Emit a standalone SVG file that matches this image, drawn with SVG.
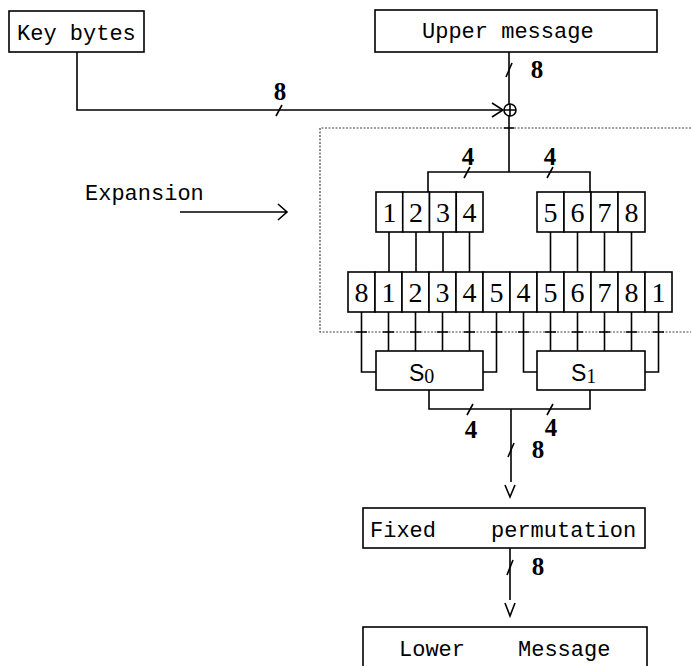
<svg xmlns="http://www.w3.org/2000/svg" width="691" height="666" viewBox="0 0 691 666">
<style>
.box{fill:#fff;stroke:#000;stroke-width:1.6}
.ln{fill:none;stroke:#000;stroke-width:1.6}
.lbl{font-family:"Liberation Mono","DejaVu Sans Mono",monospace;font-size:22px;fill:#000}
.dig{font-family:"Liberation Serif",serif;font-size:28px;fill:#000;text-anchor:middle}
.num{font-family:"Liberation Serif",serif;font-size:25px;font-weight:bold;fill:#000;text-anchor:middle}
.sl{font-family:"Liberation Sans",sans-serif;font-size:23px;fill:#000}
.dash{fill:none;stroke:#444;stroke-width:1.2;stroke-dasharray:2 1.5}
</style>
<rect width="691" height="666" fill="#fff"/>

<g id="expansion-region">
  <path class="dash" d="M691 128 H320 V332 H691"/>
  <path class="ln" d="M504 128 H514 M356 332 H367 M383 332 H394 M410 332 H421 M437 332 H448 M464 332 H475 M491 332 H502 M518 332 H529 M545 332 H556 M572 332 H583 M599 332 H610 M626 332 H637 M653 332 H664"/>
</g>

<g id="connectors">
  <path class="ln" d="M77 52 V110 H503"/>
  <path class="ln" d="M492 103 L503 110 L492 117"/>
  <path class="ln" d="M276 116 L282 105"/>
  <path class="ln" d="M509 52 V104"/>
  <path class="ln" d="M506 77 L512 63"/>
  <path class="ln" d="M509 116 V172"/>
  <path class="ln" d="M428 192 V172 H590 V192"/>
  <path class="ln" d="M464 178 L470 167 M547 178 L553 167"/>
  <path class="ln" d="M389 232 V272 M416 232 V272 M443 232 V272 M469.5 232 V272 M550.5 232 V272 M577.5 232 V272 M604.5 232 V272 M631.5 232 V272"/>
  <path class="ln" d="M361.5 312 V372 H376 M388.5 312 V351 M415.5 312 V351 M442.5 312 V351 M469.5 312 V351 M496.5 312 V372 H483"/>
  <path class="ln" d="M523.5 312 V372 H537 M550.5 312 V351 M577.5 312 V351 M604.5 312 V351 M631.5 312 V351 M658.5 312 V372 H645"/>
  <path class="ln" d="M429 390 V409 H590 V390"/>
  <path class="ln" d="M467 415 L473 404 M547 415 L553 404"/>
  <path class="ln" d="M511 409 V482"/>
  <path class="ln" d="M508 457 L514 443"/>
  <path class="ln" d="M505 485 L510 497 L515 485"/>
  <path class="ln" d="M510 548 V600"/>
  <path class="ln" d="M507 575 L513 560"/>
  <path class="ln" d="M505 603 L510 616 L515 603"/>
  <path class="ln" d="M180 212 H287 M278 204 L287 212 L278 220"/>
  <text class="num" x="280" y="100">8</text>
  <text class="num" x="537" y="78">8</text>
  <text class="num" x="468" y="165">4</text>
  <text class="num" x="550" y="165">4</text>
  <text class="num" x="471" y="438">4</text>
  <text class="num" x="551" y="436">4</text>
  <text class="num" x="538" y="458">8</text>
  <text class="num" x="538" y="575">8</text>
</g>

<g id="key-bytes">
  <rect class="box" x="9" y="11" width="135" height="41"/>
  <text class="lbl" x="17" y="40">Key bytes</text>
</g>

<g id="upper-message">
  <rect class="box" x="375" y="10" width="282" height="42"/>
  <text class="lbl" x="422" y="38">Upper message</text>
</g>

<g id="xor">
  <circle cx="510" cy="110" r="6" fill="#fff" stroke="#000" stroke-width="1.6"/>
  <path class="ln" d="M504 110 H516 M510 104 V116"/>
</g>

<g id="expansion-label">
  <text class="lbl" x="85" y="200">Expansion</text>
</g>

<g id="left-half">
  <rect class="box" x="376" y="192" width="26.75" height="40"/>
  <rect class="box" x="402.75" y="192" width="26.75" height="40"/>
  <rect class="box" x="429.5" y="192" width="26.75" height="40"/>
  <rect class="box" x="456.25" y="192" width="26.75" height="40"/>
  <text class="dig" x="389.4" y="222">1</text>
  <text class="dig" x="416.1" y="222">2</text>
  <text class="dig" x="442.9" y="222">3</text>
  <text class="dig" x="469.6" y="222">4</text>
</g>

<g id="right-half">
  <rect class="box" x="537" y="192" width="27" height="40"/>
  <rect class="box" x="564" y="192" width="27" height="40"/>
  <rect class="box" x="591" y="192" width="27" height="40"/>
  <rect class="box" x="618" y="192" width="27" height="40"/>
  <text class="dig" x="550.5" y="222">5</text>
  <text class="dig" x="577.5" y="222">6</text>
  <text class="dig" x="604.5" y="222">7</text>
  <text class="dig" x="631.5" y="222">8</text>
</g>

<g id="expanded-row">
  <rect class="box" x="348" y="272" width="27" height="40"/>
  <rect class="box" x="375" y="272" width="27" height="40"/>
  <rect class="box" x="402" y="272" width="27" height="40"/>
  <rect class="box" x="429" y="272" width="27" height="40"/>
  <rect class="box" x="456" y="272" width="27" height="40"/>
  <rect class="box" x="483" y="272" width="27" height="40"/>
  <rect class="box" x="510" y="272" width="27" height="40"/>
  <rect class="box" x="537" y="272" width="27" height="40"/>
  <rect class="box" x="564" y="272" width="27" height="40"/>
  <rect class="box" x="591" y="272" width="27" height="40"/>
  <rect class="box" x="618" y="272" width="27" height="40"/>
  <rect class="box" x="645" y="272" width="27" height="40"/>
  <text class="dig" x="361.5" y="302">8</text>
  <text class="dig" x="388.5" y="302">1</text>
  <text class="dig" x="415.5" y="302">2</text>
  <text class="dig" x="442.5" y="302">3</text>
  <text class="dig" x="469.5" y="302">4</text>
  <text class="dig" x="496.5" y="302">5</text>
  <text class="dig" x="523.5" y="302">4</text>
  <text class="dig" x="550.5" y="302">5</text>
  <text class="dig" x="577.5" y="302">6</text>
  <text class="dig" x="604.5" y="302">7</text>
  <text class="dig" x="631.5" y="302">8</text>
  <text class="dig" x="658.5" y="302">1</text>
</g>

<g id="s0">
  <rect class="box" x="376" y="351" width="107" height="39"/>
  <text class="sl" x="409" y="381">S<tspan font-size="20" font-family="Liberation Serif, serif" dy="2">0</tspan></text>
</g>

<g id="s1">
  <rect class="box" x="537" y="351" width="108" height="39"/>
  <text class="sl" x="571" y="381">S<tspan font-size="20" font-family="Liberation Serif, serif" dy="2">1</tspan></text>
</g>

<g id="fixed-permutation">
  <rect class="box" x="363" y="508" width="282" height="40"/>
  <text class="lbl" y="537"><tspan x="370">Fixed</tspan><tspan x="491">permutation</tspan></text>
</g>

<g id="lower-message">
  <rect class="box" x="363" y="627" width="284" height="60"/>
  <text class="lbl" y="656"><tspan x="399">Lower</tspan><tspan x="518">Message</tspan></text>
</g>
</svg>
